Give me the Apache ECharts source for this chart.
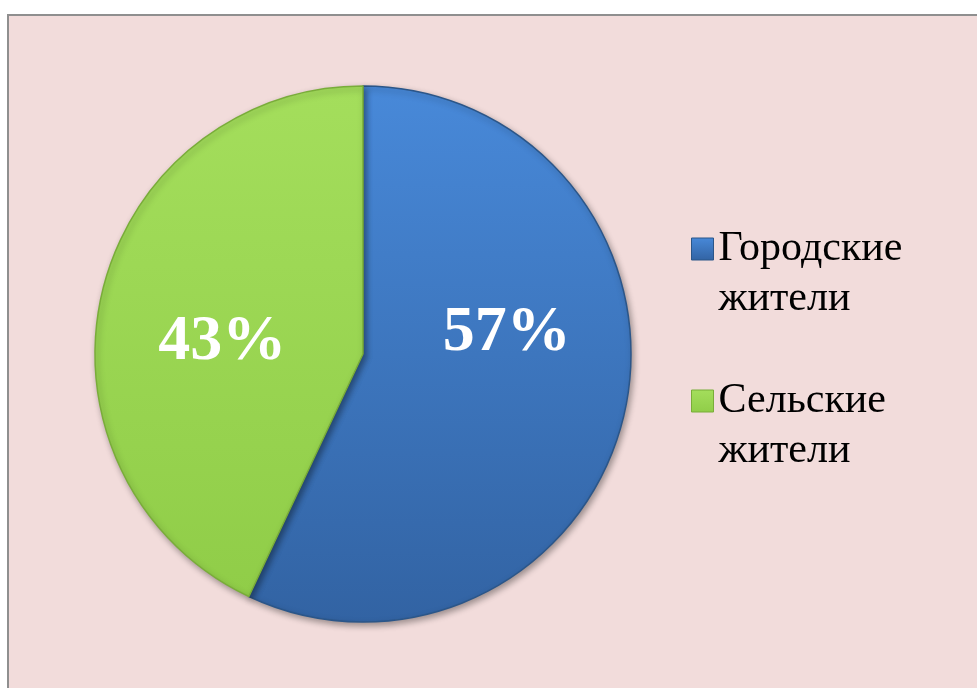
<!DOCTYPE html>
<html>
<head>
<meta charset="utf-8">
<style>
  html, body { margin: 0; padding: 0; background: #ffffff; }
  #chart { width: 977px; height: 688px; }
</style>
<script src="https://cdn.jsdelivr.net/npm/echarts@6/dist/echarts.min.js"></script>
</head>
<body>
<div id="chart"></div>
<script>
// Population split: urban vs rural residents (percent)
const categories = ['Городские\nжители', 'Сельские\nжители'];
const shares = [57, 43];

const sliceColors = [
  { top: '#4889d9', bottom: '#3263a3', edge: '#2b5689' },
  { top: '#a4de5c', bottom: '#90cd48', edge: '#79ad39' }
];
// nudges for the in-slice percentage labels
const labelNudge = [
  { dx: 10, dy: -50 },
  { dx: -7, dy: 18 }
];

const serif = 'Liberation Serif';

function vGrad(top, bottom) {
  return new echarts.graphic.LinearGradient(0, 0, 0, 1, [
    { offset: 0, color: top },
    { offset: 1, color: bottom }
  ]);
}

const chart = echarts.init(document.getElementById('chart'), null, { renderer: 'canvas' });

chart.setOption({
  backgroundColor: '#ffffff',
  animation: false,
  graphic: [{
    type: 'rect',
    z: -10,
    silent: true,
    shape: { x: 8, y: 15, width: 1000, height: 700 },
    style: { fill: '#f2dcdb', stroke: '#8f8f8f', lineWidth: 2 }
  }],
  legend: {
    orient: 'vertical',
    left: 686,
    top: 169,
    itemWidth: 22,
    itemHeight: 22,
    itemGap: 2,
    icon: 'rect',
    selectedMode: false,
    // leading blank line keeps the swatch level with the first text line
    formatter: name => '\n' + name,
    textStyle: {
      fontFamily: serif,
      fontSize: 42,
      lineHeight: 50,
      color: '#000000'
    },
    data: categories.map((name, i) => ({
      name,
      itemStyle: {
        color: vGrad(sliceColors[i].top, sliceColors[i].bottom),
        borderColor: sliceColors[i].edge,
        borderWidth: 1
      }
    }))
  },
  series: [{
    type: 'pie',
    center: [363, 354],
    radius: [0, 268],
    startAngle: 90,
    clockwise: true,
    silent: true,
    label: {
      show: true,
      position: 'inside',
      formatter: '{d}%',
      fontFamily: serif,
      fontWeight: 'bold',
      fontSize: 64,
      color: '#ffffff'
    },
    labelLine: { show: false },
    labelLayout: function (params) {
      return labelNudge[params.dataIndex];
    },
    data: categories.map((name, i) => ({
      name,
      value: shares[i],
      itemStyle: {
        color: vGrad(sliceColors[i].top, sliceColors[i].bottom),
        borderColor: sliceColors[i].edge,
        borderWidth: 1.5,
        shadowBlur: 6,
        shadowOffsetX: 2,
        shadowOffsetY: 3,
        shadowColor: 'rgba(0,0,0,0.35)'
      }
    }))
  }]
});
</script>
</body>
</html>
